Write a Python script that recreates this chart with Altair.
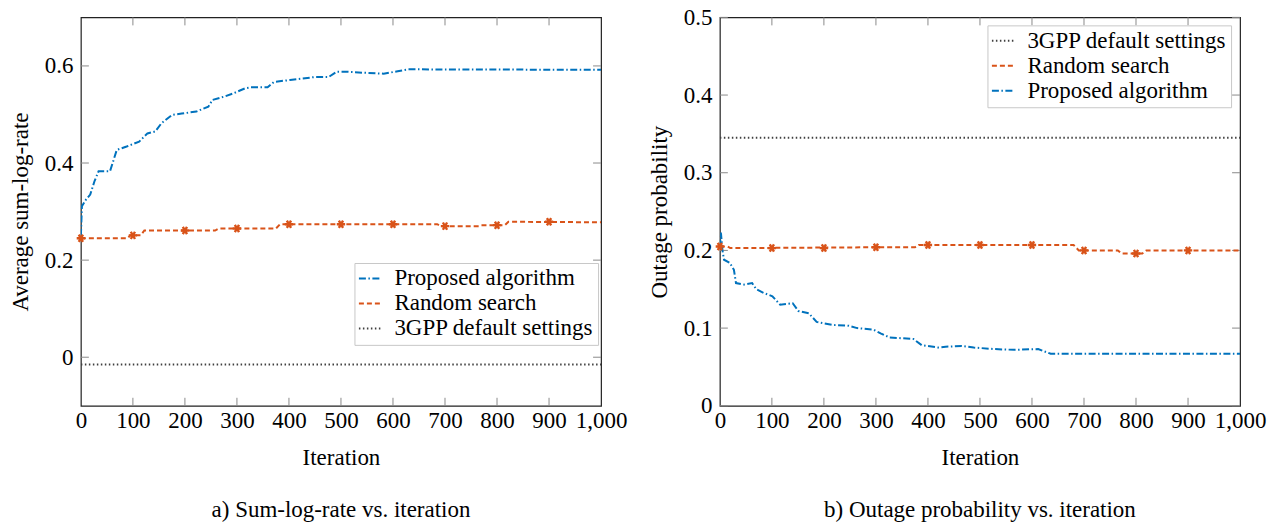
import altair as alt
import pandas as pd

# ---------------- data ----------------
X_TICKS = [0, 100, 200, 300, 400, 500, 600, 700, 800, 900, 1000]
Y_TICKS_A = [0, 0.2, 0.4, 0.6]
Y_TICKS_B = [0, 0.1, 0.2, 0.3, 0.4, 0.5]

NAMES = ["Proposed algorithm", "Random search", "3GPP default settings"]
COLORS = ["#0072BD", "#D95319", "#404040"]

# panel a) average sum-log-rate
prop_a_it = [0, 2, 10, 18, 26, 34, 56, 69, 88, 112, 128, 143, 155, 175, 194, 222, 245, 253,
             276, 292, 316, 327, 359, 371, 402, 425, 449, 476, 492, 511, 543, 582, 609, 629, 1000]
prop_a_val = [0.250, 0.311, 0.325, 0.335, 0.362, 0.383, 0.383, 0.427, 0.434, 0.444, 0.461, 0.465,
              0.482, 0.499, 0.502, 0.506, 0.516, 0.530, 0.537, 0.543, 0.554, 0.556, 0.556, 0.567,
              0.571, 0.574, 0.577, 0.577, 0.588, 0.588, 0.586, 0.584, 0.589, 0.593, 0.592]
rand_a_it = [0, 90, 95, 115, 122, 258, 265, 375, 383, 685, 692, 765, 770, 815, 822, 1000]
rand_a_val = [0.245, 0.245, 0.251, 0.251, 0.261, 0.261, 0.265, 0.265, 0.274, 0.274, 0.270,
              0.270, 0.272, 0.272, 0.279, 0.278]
rand_a_mark_it = [0, 100, 200, 300, 400, 500, 600, 700, 800, 900]
rand_a_mark_val = [0.245, 0.251, 0.261, 0.265, 0.274, 0.274, 0.274, 0.270, 0.272, 0.279]
gpp_a_it = [0, 1000]
gpp_a_val = [-0.015, -0.015]

# panel b) outage probability
prop_b_it = [0, 2, 5, 8, 19, 27, 31, 47, 62, 70, 85, 101, 116, 140, 151, 171, 186, 217, 248,
             264, 295, 310, 326, 349, 372, 388, 419, 434, 465, 488, 527, 566, 612, 636, 1000]
prop_b_val = [0.205, 0.223, 0.200, 0.188, 0.184, 0.175, 0.158, 0.156, 0.158, 0.150, 0.145, 0.141,
              0.130, 0.132, 0.122, 0.119, 0.108, 0.104, 0.103, 0.100, 0.098, 0.093, 0.088, 0.087,
              0.086, 0.078, 0.075, 0.076, 0.077, 0.075, 0.073, 0.072, 0.073, 0.067, 0.067]
rand_b_it = [0, 15, 20, 290, 375, 382, 680, 690, 765, 772, 812, 820, 1000]
rand_b_val = [0.205, 0.205, 0.203, 0.204, 0.204, 0.207, 0.207, 0.200, 0.200, 0.196, 0.196,
              0.200, 0.200]
rand_b_mark_it = [0, 100, 200, 300, 400, 500, 600, 700, 800, 900]
rand_b_mark_val = [0.205, 0.203, 0.203, 0.204, 0.207, 0.207, 0.207, 0.200, 0.196, 0.200]
gpp_b_it = [0, 1000]
gpp_b_val = [0.345, 0.345]

# ---------------- styling ----------------
FONT = "Liberation Serif, Times New Roman, Times, serif"
FS = 23
W, H = 521, 389
TICK_LEN = 8
DASHES = [[7, 2.5, 1.5, 2.5], [5, 3], [1.5, 2.5]]
ASTERISK = "M-1,0L1,0M-0.5,-0.87L0.5,0.87M-0.5,0.87L0.5,-0.87"
LEGEND_LINE = "M-1.6,0L1.6,0"


def lines_df(parts):
    rows = []
    for name, its, vals in parts:
        for i, v in zip(its, vals):
            rows.append({"Iteration": i, "value": v, "series": name})
    return pd.DataFrame(rows)


def panel(parts, marks_it, marks_val, ydomain, yticks, ytitle, caption, order, legend_xy):
    xs = alt.Scale(domain=[0, 1000], nice=False, zero=False)
    ys = alt.Scale(domain=ydomain, nice=False, zero=False)
    dom = [n for n in order]
    col = alt.Scale(domain=dom, range=[COLORS[NAMES.index(n)] for n in dom])
    dsh = alt.Scale(domain=dom, range=[DASHES[NAMES.index(n)] for n in dom])
    leg = alt.Legend(
        title=None, orient="none", legendX=legend_xy[0], legendY=legend_xy[1],
        symbolType=LEGEND_LINE, symbolSize=190, symbolStrokeWidth=2,
        labelFont=FONT, labelFontSize=FS, labelColor="black", labelOffset=13,
        rowPadding=1, padding=4, fillColor="white", strokeColor="#c8c8c8",
        labelLimit=400,
    )
    df = lines_df(parts)
    lines = alt.Chart(df).mark_line(strokeWidth=2, clip=True).encode(
        x=alt.X("Iteration:Q", scale=xs,
                axis=alt.Axis(values=X_TICKS, format=",d", title="Iteration")),
        y=alt.Y("value:Q", scale=ys,
                axis=alt.Axis(values=yticks, format=".1~f", title=ytitle)),
        color=alt.Color("series:N", scale=col, legend=leg, sort=dom),
        strokeDash=alt.StrokeDash("series:N", scale=dsh, legend=leg, sort=dom),
        order=alt.Order("Iteration:Q"),
    )
    mdf = pd.DataFrame({"Iteration": marks_it, "value": marks_val})
    markers = alt.Chart(mdf).mark_point(
        shape=ASTERISK, filled=False, strokeWidth=2.4, size=70, color=COLORS[1], opacity=1
    ).encode(x=alt.X("Iteration:Q", scale=xs), y=alt.Y("value:Q", scale=ys))

    xt = alt.Chart(pd.DataFrame({"t": X_TICKS[1:-1]}))
    yt = alt.Chart(pd.DataFrame({"t": yticks}))
    tick_style = dict(color="#8a8a8a", strokeWidth=1)
    t_bottom = xt.mark_rule(**tick_style).encode(
        x=alt.X("t:Q", scale=xs), y=alt.value(H), y2=alt.value(H - TICK_LEN))
    t_top = xt.mark_rule(**tick_style).encode(
        x=alt.X("t:Q", scale=xs), y=alt.value(0), y2=alt.value(TICK_LEN))
    t_left = yt.mark_rule(**tick_style).encode(
        y=alt.Y("t:Q", scale=ys), x=alt.value(0), x2=alt.value(TICK_LEN))
    t_right = yt.mark_rule(**tick_style).encode(
        y=alt.Y("t:Q", scale=ys), x=alt.value(W), x2=alt.value(W - TICK_LEN))

    return alt.layer(t_bottom, t_top, t_left, t_right, lines, markers).properties(
        width=W, height=H,
        title=alt.TitleParams(caption, orient="bottom", font=FONT, fontSize=FS,
                              fontWeight="normal", color="black", offset=29),
    )


pa = panel(
    [("Proposed algorithm", prop_a_it, prop_a_val),
     ("Random search", rand_a_it, rand_a_val),
     ("3GPP default settings", gpp_a_it, gpp_a_val)],
    rand_a_mark_it, rand_a_mark_val, [-0.1, 0.7], Y_TICKS_A,
    "Average sum-log-rate", "a) Sum-log-rate vs. iteration",
    ["Proposed algorithm", "Random search", "3GPP default settings"], (274, 246),
)
pb = panel(
    [("3GPP default settings", gpp_b_it, gpp_b_val),
     ("Random search", rand_b_it, rand_b_val),
     ("Proposed algorithm", prop_b_it, prop_b_val)],
    rand_b_mark_it, rand_b_mark_val, [0, 0.5], Y_TICKS_B,
    "Outage probability", "b) Outage probability vs. iteration",
    ["3GPP default settings", "Random search", "Proposed algorithm"], (268, 8),
)

chart = alt.hconcat(pa, pb, spacing=119, bounds="flush").resolve_scale(
    color="independent", strokeDash="independent", x="independent", y="independent"
).resolve_legend(color="independent", strokeDash="independent").properties(
    padding={"left": 8, "top": 5, "right": 5, "bottom": 0}
).configure_view(stroke="#222", strokeWidth=1.2).configure_axis(
    grid=False, ticks=False, domain=False, labelFont=FONT, titleFont=FONT,
    labelFontSize=FS, titleFontSize=FS, titleFontWeight="normal",
    labelColor="black", titleColor="black", labelFlush=False, labelOverlap=False,
).configure_axisX(labelPadding=4, titlePadding=14).configure_axisY(
    labelPadding=8, titlePadding=12)

chart.save("out.html", embed_options={"renderer": "svg", "actions": False})
